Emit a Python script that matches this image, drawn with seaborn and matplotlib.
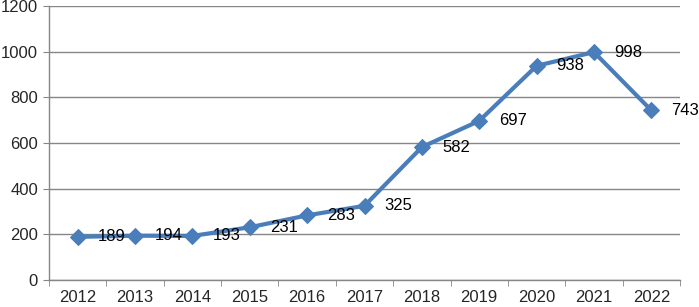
import matplotlib
matplotlib.use("Agg")
import matplotlib.pyplot as plt
import seaborn as sns
import pandas as pd

years = ["2012", "2013", "2014", "2015", "2016", "2017", "2018", "2019", "2020", "2021", "2022"]
values = [189, 194, 193, 231, 283, 325, 582, 697, 938, 998, 743]

sns.set_style("white")
plt.rcParams["font.family"] = ["Liberation Sans", "DejaVu Sans"]

df = pd.DataFrame({"year": years, "value": values})
fig = plt.figure(figsize=(6.99, 3.07), dpi=100)
ax = fig.add_axes([49 / 699, 27 / 307, 631 / 699, 274 / 307])

sns.lineplot(data=df, x="year", y="value", ax=ax, color="#4a7ebb", linewidth=3,
             marker="D", markersize=8.5, markeredgecolor="#4a7ebb", sort=False)

for i, v in enumerate(values):
    ax.annotate(str(v), (i, v), xytext=(14.5, 0), textcoords="offset points",
                va="center", ha="left", fontsize=12, color="#000000")

ax.set_xlim(-0.5, len(years) - 0.5)
ax.set_ylim(0, 1200)
ax.set_yticks(range(0, 1201, 200))
ax.yaxis.grid(True, color="#868686", linewidth=1)
ax.set_axisbelow(True)
ax.set_xlabel("")
ax.set_ylabel("")
ax.set_xticks(range(len(years)))
ax.set_xticklabels(years)
ax.set_xticks([i - 0.5 for i in range(len(years) + 1)], minor=True)
ax.tick_params(axis="x", which="major", length=0, labelsize=12, pad=7)
ax.tick_params(axis="x", which="minor", length=4, color="#868686", direction="out", bottom=True)
ax.tick_params(axis="y", length=4, color="#868686", direction="out", labelsize=12, left=True, pad=4)
for s in ["top", "right"]:
    ax.spines[s].set_visible(False)
for s in ["left", "bottom"]:
    ax.spines[s].set_color("#868686")
    ax.spines[s].set_linewidth(1)

fig.savefig("out.png", dpi=100)
